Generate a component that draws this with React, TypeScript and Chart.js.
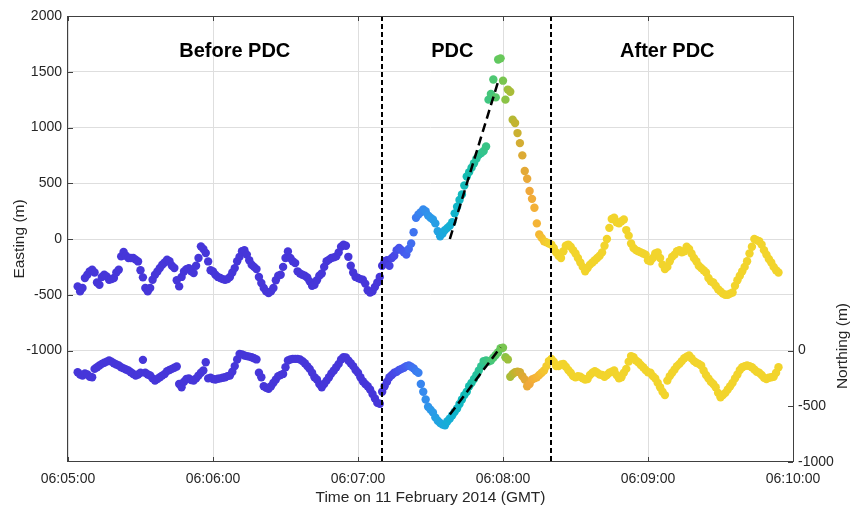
import React, { useEffect, useRef } from "react";
import { Chart, registerables } from "chart.js";

Chart.register(...registerables);

// GPS fixes, one per second, starting at 06:05:04 (seconds counted from 06:05:00)
const FIRST_SECOND = 4;

// Easting displacement (m), left axis
const easting = [
  -425, -470, -440, -350, -320, -290, -276, -300, -390, -410,
  -340, -320, -335, -365, -360, -350, -300, -276, -156, -117,
  -150, -171, -170, -171, -185, -201, -280, -344, -440, -470,
  -440, -365, -320, -291, -260, -231, -210, -186, -200, -240,
  -260, -370, -425, -340, -291, -270, -261, -290, -306, -240,
  -170, -66, -90, -126, -201, -280, -291, -320, -340, -350,
  -360, -365, -360, -340, -300, -261, -200, -160, -110, -100,
  -140, -190, -231, -250, -270, -340, -395, -440, -470, -485,
  -470, -440, -370, -330, -320, -250, -170, -111, -170, -200,
  -216, -290, -310, -320, -330, -345, -380, -420, -410, -370,
  -330, -310, -250, -200, -185, -170, -165, -156, -120, -70,
  -52, -60, -160, -240, -300, -340, -350, -360, -365, -400,
  -460, -480, -470, -430, -390, -340, -240, -200, -190, -240,
  -170, -150, -100, -80, -100, -120, -140, -90, -40, 60,
  190, 220, 240, 265, 250, 210, 190, 175, 140, 70,
  25, 50, 80, 100, 120, 150, 230, 290, 350, 400,
  480, 560, 600, 640, 680, 720, 755, 770, 790, 830,
  1250, 1300, 1430, 1270, 1610, 1620, 1420, 1250, 1340, 1320,
  1070, 1040, 950, 860, 750, 610, 540, 430, 360, 280,
  140, 40, 10, -20, -30, -40, -50, -80, -120, -150,
  -170, -110, -60, -50, -70, -100, -130, -170, -210, -250,
  -290, -260, -230, -210, -190, -170, -150, -120, -60, 0,
  100, 180, 190, 150, 140, 160, 175, 80, 30, -40,
  -80, -100, -110, -120, -130, -140, -190, -200, -170, -130,
  -120, -170, -230, -270, -250, -200, -160, -140, -110, -100,
  -120, -110, -70, -90, -130, -170, -200, -240, -260, -280,
  -300, -350, -380, -390, -420, -450, -470, -490, -500, -500,
  -490, -480, -420, -370, -330, -290, -250, -200, -130, -70,
  0, -10, -20, -50, -100, -140, -180, -210, -250, -280,
  -300,
];

// Northing displacement (m), right axis
const northing = [
  -195, -215, -224, -205, -215, -235, -240, -165, -150, -135,
  -120, -110, -100, -90, -100, -115, -125, -135, -150, -160,
  -170, -180, -195, -210, -224, -215, -200, -84, -200, -215,
  -224, -250, -270, -255, -240, -225, -210, -185, -175, -165,
  -155, -144, -300, -329, -280, -255, -250, -265, -270, -250,
  -225, -200, -180, -105, -250, -245, -255, -260, -254, -250,
  -245, -240, -230, -224, -190, -140, -80, -30, -35, -45,
  -50, -55, -60, -70, -80, -200, -240, -320, -335, -344,
  -320, -290, -260, -230, -220, -210, -150, -90, -80, -75,
  -75, -75, -80, -95, -115, -140, -165, -200, -240, -260,
  -300, -329, -300, -270, -240, -205, -180, -150, -120, -80,
  -60, -62, -90, -115, -140, -175, -200, -240, -275, -300,
  -320, -350, -390, -430, -470, -478, -370, -320, -280, -240,
  -220, -200, -190, -175, -165, -155, -140, -135, -145, -160,
  -185, -200, -300, -370, -440, -505, -530, -555, -600, -630,
  -650, -665, -670, -635, -610, -580, -550, -520, -480, -440,
  -400, -370, -320, -290, -255, -220, -180, -140, -95, -90,
  -100, -90, -65, -40, -15, 20, 25, -60, -80, -235,
  -210, -195, -190, -195, -230, -260, -320, -300, -260, -250,
  -240, -220, -200, -180, -140, -95, -75, -100, -140, -140,
  -125, -120, -145, -175, -200, -230, -240, -230, -235, -250,
  -260, -255, -220, -200, -185, -200, -215, -220, -235, -220,
  -200, -190, -180, -220, -250, -240, -200, -165, -100, -50,
  -60, -90, -105, -130, -150, -175, -195, -200, -230, -250,
  -290, -330, -370, -400, -270, -230, -200, -170, -140, -120,
  -95, -70, -55, -45, -70, -95, -110, -120, -135, -180,
  -220, -250, -280, -300, -330, -380, -420, -400, -380, -350,
  -320, -290, -250, -215, -175, -150, -140, -135, -140, -150,
  -170, -190, -200, -220, -245, -255, -245, -240, -235, -200,
  -150,
];

// Linear trends fitted through the PDC passage
const eastingTrendSeconds = [158, 178];
const eastingTrendValues = [0, 1413];
const northingTrendSeconds = [158, 179];
const northingTrendValues = [-575, 30];

// Tick labels
const timeTickLabels = ["06:05:00", "06:06:00", "06:07:00", "06:08:00", "06:09:00", "06:10:00"];
const eastingTickValues = [2000, 1500, 1000, 500, 0, -500, -1000];
const northingTickValues = [0, -500, -1000];

// Phase boundaries: 06:07:10 and 06:08:20
const phaseBoundarySeconds = [130, 200];
const phaseNames = ["Before PDC", "PDC", "After PDC"];
const phaseNameSeconds = [69, 159, 248];
const PHASE_NAME_EASTING = 1680;
const NORTHING_TITLE_AT = 40;

// Styling
const FONT = '"Liberation Sans", Arial, Helvetica, sans-serif';
const TEXT = "#262626";
const AXIS = "#404040";
const GRID = "#dedede";
const DOT_RADIUS = 4.2;

// Colour ramp over the PDC window (seconds -> colour)
const COLOUR_RAMP: [number, string][] = [
  [130, "#4636d9"],
  [135, "#4848e6"],
  [140, "#4560ef"],
  [145, "#3a80f0"],
  [150, "#2d98ea"],
  [155, "#1ca8de"],
  [160, "#10b4cc"],
  [165, "#12bcb4"],
  [170, "#28c298"],
  [175, "#45c67a"],
  [179, "#68c85a"],
  [182, "#9cc03c"],
  [185, "#c2b430"],
  [188, "#dcaa34"],
  [191, "#f0a83a"],
  [195, "#f5b834"],
  [198, "#f3cc2e"],
  [200, "#f2d42c"],
];

function hexToRgb(h: string): number[] {
  const n = parseInt(h.slice(1), 16);
  return [(n >> 16) & 255, (n >> 8) & 255, n & 255];
}

function colourAt(t: number): string {
  if (t <= COLOUR_RAMP[0][0]) return COLOUR_RAMP[0][1];
  const last = COLOUR_RAMP[COLOUR_RAMP.length - 1];
  if (t >= last[0]) return last[1];
  for (let i = 0; i < COLOUR_RAMP.length - 1; i++) {
    const [t0, c0] = COLOUR_RAMP[i];
    const [t1, c1] = COLOUR_RAMP[i + 1];
    if (t >= t0 && t <= t1) {
      const f = (t - t0) / (t1 - t0);
      const a = hexToRgb(c0);
      const b = hexToRgb(c1);
      const m = a.map((v, k) => Math.round(v + (b[k] - v) * f));
      return `rgb(${m[0]},${m[1]},${m[2]})`;
    }
  }
  return last[1];
}

const overlayPlugin = {
  id: "pdcOverlay",
  afterDatasetsDraw(chart: any) {
    const { ctx, chartArea: a, scales } = chart;
    const x = scales.x;
    const yL = scales.y;
    const yR = scales.y2;
    ctx.save();

    // phase boundaries
    ctx.strokeStyle = "#000";
    ctx.lineWidth = 2;
    ctx.setLineDash([5, 3]);
    for (const s of phaseBoundarySeconds) {
      const px = Math.round(x.getPixelForValue(s));
      ctx.beginPath();
      ctx.moveTo(px, a.top);
      ctx.lineTo(px, a.bottom);
      ctx.stroke();
    }
    ctx.setLineDash([]);

    // axes box
    ctx.strokeStyle = AXIS;
    ctx.lineWidth = 1;
    ctx.strokeRect(Math.round(a.left) - 0.5, Math.round(a.top) + 0.5, Math.round(a.width) + 1, Math.round(a.height) - 1);

    // inward tick marks
    const TL = 5;
    ctx.beginPath();
    for (let i = 0; i < timeTickLabels.length; i++) {
      const px = Math.round(x.getPixelForValue(i * 60)) + 0.5;
      ctx.moveTo(px, a.bottom);
      ctx.lineTo(px, a.bottom - TL);
      ctx.moveTo(px, a.top);
      ctx.lineTo(px, a.top + TL);
    }
    for (const v of eastingTickValues) {
      const py = Math.round(yL.getPixelForValue(v)) + 0.5;
      ctx.moveTo(a.left, py);
      ctx.lineTo(a.left + TL, py);
    }
    for (const v of northingTickValues) {
      const py = Math.round(yR.getPixelForValue(v)) + 0.5;
      ctx.moveTo(a.right, py);
      ctx.lineTo(a.right - TL, py);
    }
    ctx.stroke();

    // phase names
    ctx.fillStyle = "#000";
    ctx.font = `bold 20px ${FONT}`;
    ctx.textAlign = "center";
    ctx.textBaseline = "middle";
    phaseNames.forEach((name, i) => {
      ctx.fillText(name, x.getPixelForValue(phaseNameSeconds[i]), yL.getPixelForValue(PHASE_NAME_EASTING));
    });

    // axis titles
    ctx.fillStyle = TEXT;
    ctx.font = `15.5px ${FONT}`;
    ctx.fillText("Time on 11 February 2014 (GMT)", (a.left + a.right) / 2, 498);

    ctx.save();
    ctx.translate(20, (a.top + a.bottom) / 2);
    ctx.rotate(-Math.PI / 2);
    ctx.fillText("Easting (m)", 0, 0);
    ctx.restore();

    ctx.save();
    ctx.translate(843, yR.getPixelForValue(NORTHING_TITLE_AT));
    ctx.rotate(-Math.PI / 2);
    ctx.fillText("Northing (m)", 0, 0);
    ctx.restore();

    ctx.restore();
  },
};

export default function App() {
  const canvasRef = useRef<HTMLCanvasElement | null>(null);

  useEffect(() => {
    const canvas = canvasRef.current;
    if (!canvas) return;

    const eastingPoints = easting.map((v, i) => ({ x: FIRST_SECOND + i, y: v }));
    const northingPoints = northing.map((v, i) => ({ x: FIRST_SECOND + i, y: v }));
    const eastingColours = easting.map((_, i) => colourAt(FIRST_SECOND + i));
    const northingColours = northing.map((_, i) => colourAt(FIRST_SECOND + i));
    const eastingTrend = eastingTrendSeconds.map((s, i) => ({ x: s, y: eastingTrendValues[i] }));
    const northingTrend = northingTrendSeconds.map((s, i) => ({ x: s, y: northingTrendValues[i] }));

    const tickFont = { family: FONT, size: 14 };

    const chart = new Chart(canvas, {
      type: "scatter",
      data: {
        datasets: [
          {
            type: "line",
            label: "Easting trend",
            data: eastingTrend,
            yAxisID: "y",
            borderColor: "#000",
            borderWidth: 2.5,
            borderDash: [9, 5],
            pointRadius: 0,
            fill: false,
            order: 0,
          },
          {
            type: "line",
            label: "Northing trend",
            data: northingTrend,
            yAxisID: "y2",
            borderColor: "#000",
            borderWidth: 2.5,
            borderDash: [9, 5],
            pointRadius: 0,
            fill: false,
            order: 0,
          },
          {
            label: "Easting",
            data: eastingPoints,
            yAxisID: "y",
            pointRadius: DOT_RADIUS,
            pointBorderWidth: 0,
            pointBackgroundColor: eastingColours,
            order: 1,
          },
          {
            label: "Northing",
            data: northingPoints,
            yAxisID: "y2",
            pointRadius: DOT_RADIUS,
            pointBorderWidth: 0,
            pointBackgroundColor: northingColours,
            order: 1,
          },
        ] as any,
      },
      options: {
        animation: false,
        responsive: false,
        devicePixelRatio: 1,
        events: [],
        layout: { padding: { top: 16, left: 0, right: 0, bottom: 0 } },
        plugins: { legend: { display: false }, tooltip: { enabled: false } },
        scales: {
          x: {
            type: "linear",
            position: "bottom",
            min: 0,
            max: 300,
            afterFit: (s: any) => {
              s.height = 48;
            },
            ticks: {
              stepSize: 60,
              padding: 9,
              color: TEXT,
              font: tickFont,
              maxRotation: 0,
              autoSkip: false,
              callback: (v: any) => timeTickLabels[Math.round(Number(v) / 60)] ?? "",
            },
            grid: { color: GRID, drawTicks: false },
            border: { display: false },
          },
          y: {
            type: "linear",
            position: "left",
            min: -2000,
            max: 2000,
            afterFit: (s: any) => {
              s.width = 68;
            },
            ticks: {
              stepSize: 500,
              padding: 6,
              color: TEXT,
              font: tickFont,
              callback: (v: any) => (eastingTickValues.includes(Number(v)) ? String(v) : ""),
            },
            grid: {
              color: (c: any) => (eastingTickValues.includes(c.tick?.value) ? GRID : "rgba(0,0,0,0)"),
              drawTicks: false,
            },
            border: { display: false },
          },
          y2: {
            type: "linear",
            position: "right",
            min: -1000,
            max: 3000,
            afterFit: (s: any) => {
              s.width = 61;
            },
            ticks: {
              stepSize: 500,
              padding: 5,
              color: TEXT,
              font: tickFont,
              callback: (v: any) => (northingTickValues.includes(Number(v)) ? String(v) : ""),
            },
            grid: { display: false, drawTicks: false },
            border: { display: false },
          },
        },
      } as any,
      plugins: [overlayPlugin],
    });

    return () => chart.destroy();
  }, []);

  return (
    <div style={{ position: "fixed", left: 0, top: 0, width: 854, height: 510, background: "#fff" }}>
      <canvas ref={canvasRef} width={854} height={510} style={{ display: "block", width: 854, height: 510 }} />
    </div>
  );
}
